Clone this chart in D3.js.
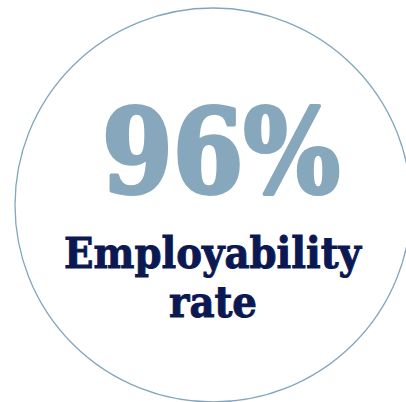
<!DOCTYPE html>
<html>
<head>
<meta charset="utf-8">
<script src="https://cdn.jsdelivr.net/npm/d3@7"></script>
<style>
html,body{margin:0;padding:0;background:#fff;}
svg{display:block;}
</style>
</head>
<body>
<div id="chart"></div>
<script>
const statValues = [96];
const statSuffix = ["%"];
const labelLines = ["Employability", "rate"];

const W = 406, H = 402;
const svg = d3.select("#chart").append("svg")
  .attr("width", W).attr("height", H);

svg.append("ellipse")
  .attr("cx", 213).attr("cy", 205)
  .attr("rx", 198).attr("ry", 197)
  .attr("fill", "none")
  .attr("stroke", "#84a6bb")
  .attr("stroke-width", 1.3);

const fmt = d3.format("d");
svg.selectAll("text.stat").data(statValues).join("text")
  .attr("class", "stat")
  .attr("x", 102).attr("y", 192)
  .attr("font-family", "'DejaVu Serif', serif")
  .attr("font-weight", "bold")
  .attr("font-size", 116)
  .attr("fill", "#87a8bc")
  .attr("stroke", "#87a8bc")
  .attr("stroke-width", 4)
  .attr("stroke-linejoin", "round")
  .attr("textLength", 238)
  .attr("lengthAdjust", "spacingAndGlyphs")
  .text((d, i) => fmt(d) + statSuffix[i]);

const lineY = [268, 317];
const lineX = [64, 169];
const lineW = [297, 88];
svg.selectAll("text.label").data(labelLines).join("text")
  .attr("class", "label")
  .attr("x", (d, i) => lineX[i]).attr("y", (d, i) => lineY[i])
  .attr("font-family", "'DejaVu Serif', serif")
  .attr("font-weight", "bold")
  .attr("font-size", 43)
  .attr("fill", "#0b1852")
  .attr("stroke", "#0b1852")
  .attr("stroke-width", 1)
  .attr("textLength", (d, i) => lineW[i])
  .attr("lengthAdjust", "spacingAndGlyphs")
  .text(d => d);
</script>
</body>
</html>
